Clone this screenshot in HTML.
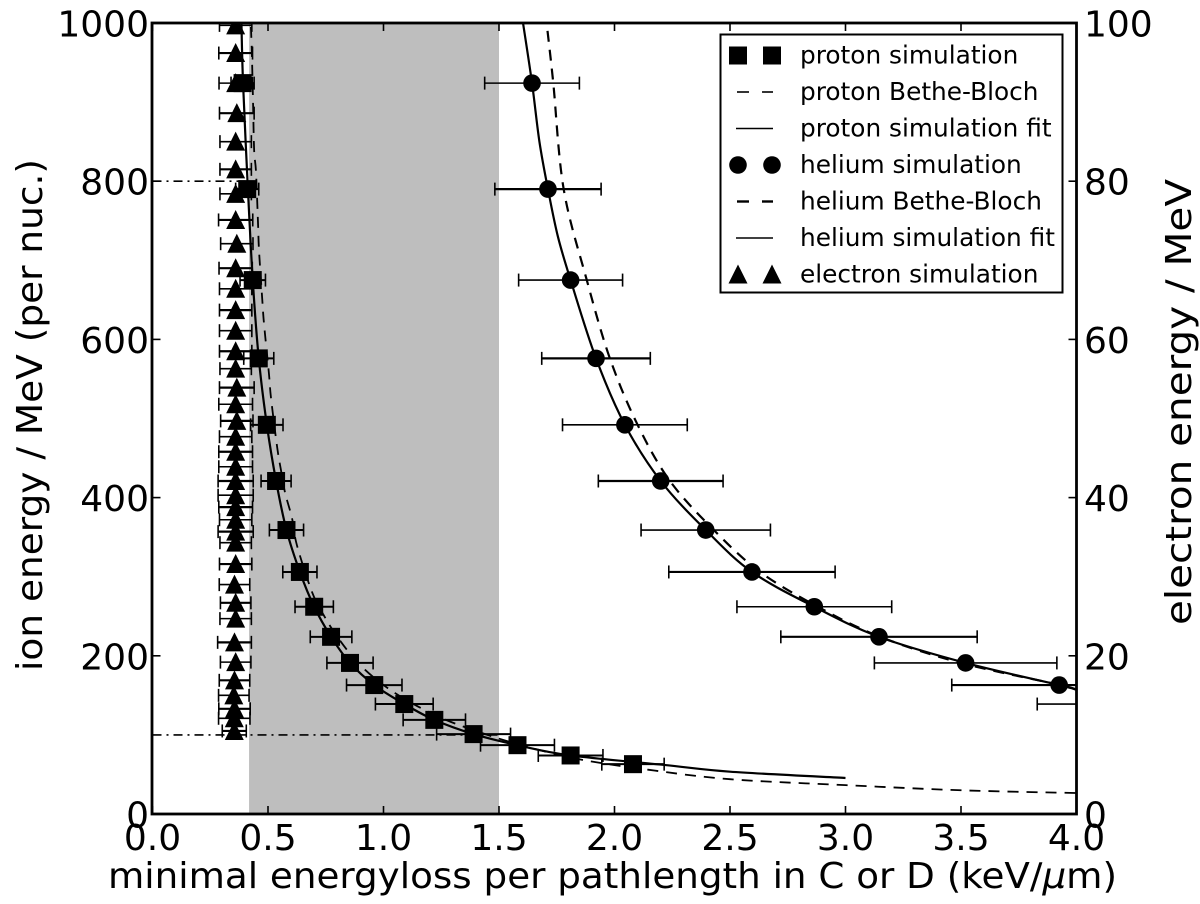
<!DOCTYPE html>
<html lang="en">
<head>
<meta charset="utf-8">
<title>Minimal energy loss per pathlength</title>
<style>
html,body{margin:0;padding:0;background:#fff;}
svg{display:block;}
text{font-family:"DejaVu Sans","Liberation Sans",sans-serif;fill:#000;}
</style>
</head>
<body>
<svg id="chart" xmlns="http://www.w3.org/2000/svg" width="1200" height="904" viewBox="0 0 1200 904">
<rect x="0" y="0" width="1200" height="904" fill="#fff"/>
<text x="612.5" y="888" font-size="36" text-anchor="middle" textLength="1009" lengthAdjust="spacingAndGlyphs">minimal energyloss per pathlength in C or D (keV/<tspan font-style="italic">μ</tspan>m)</text>
<text transform="translate(42,415) rotate(-90)" font-size="36" text-anchor="middle" textLength="512" lengthAdjust="spacingAndGlyphs">ion energy / MeV (per nuc.)</text>
<text transform="translate(1191,402) rotate(-90)" font-size="36" text-anchor="middle" textLength="446" lengthAdjust="spacingAndGlyphs">electron energy / MeV</text>
</svg>
<script>
// ---- chart data ----
const xTickLabels = ["0.0","0.5","1.0","1.5","2.0","2.5","3.0","3.5","4.0"];
const yLeftTickLabels = ["0","200","400","600","800","1000"];
const yRightTickLabels = ["0","20","40","60","80","100"];

const protonEnergy = [924,790,675,576,492,421,359,306,262,224,191,163,139,119,101,87,74,63];
const protonLoss = [0.39,0.41,0.434,0.46,0.495,0.535,0.58,0.638,0.70,0.773,0.855,0.96,1.09,1.22,1.39,1.58,1.81,2.08];
const protonError = [0.05,0.05,0.055,0.065,0.07,0.065,0.074,0.074,0.083,0.09,0.10,0.12,0.125,0.135,0.16,0.16,0.14,0.135];

const heliumEnergy = [924,790,675,576,492,421,359,306,262,224,191,163,139];
const heliumLoss = [1.643,1.712,1.81,1.92,2.045,2.2,2.395,2.595,2.865,3.145,3.52,3.925,4.45];
const heliumError = [0.205,0.23,0.225,0.235,0.27,0.27,0.28,0.36,0.335,0.425,0.395,0.465,0.62];

const electronEnergy = [99.7,96.2,92.4,88.6,85,81.5,78.4,75.1,72.1,69,66.4,63.7,61.1,58.5,56.3,53.9,51.8,49.7,47.7,45.8,43.9,42.1,40.3,38.8,37.2,35.7,34.3,31.6,29,26.7,24.7,21.7,19.2,16.9,15,13.3,12.1,10.5];
const electronLoss = [0.36,0.36,0.36,0.365,0.36,0.36,0.36,0.36,0.365,0.36,0.36,0.36,0.36,0.36,0.36,0.365,0.36,0.365,0.36,0.36,0.36,0.36,0.36,0.36,0.36,0.36,0.36,0.36,0.355,0.36,0.36,0.355,0.36,0.355,0.352,0.355,0.354,0.354];
const electronError = [0.07,0.073,0.072,0.075,0.068,0.068,0.068,0.074,0.07,0.072,0.07,0.07,0.07,0.07,0.068,0.075,0.073,0.07,0.07,0.073,0.073,0.076,0.076,0.073,0.07,0.076,0.068,0.07,0.066,0.066,0.068,0.073,0.066,0.066,0.066,0.068,0.068,0.052];

const protonFitEnergy = [1000,924,790,675,576,492,421,359,306,262,224,191,163,139,119,101,87,74,62,53.5,45.5];
const protonFitLoss = [0.385,0.392,0.413,0.434,0.46,0.495,0.535,0.58,0.638,0.70,0.773,0.855,0.96,1.09,1.22,1.39,1.58,1.81,2.215,2.5,3.0];

const protonBetheEnergy = [995,963,903,839,812,745,713,651,619,557,526,463,435,406,374,340,281,252,224,191,163,139,119,101,85,69,56,44,36.5,30,26.5];
const protonBetheLoss = [0.426,0.43,0.435,0.44,0.448,0.457,0.461,0.475,0.483,0.504,0.513,0.54,0.556,0.574,0.604,0.625,0.69,0.74,0.80,0.89,1.0,1.13,1.27,1.44,1.62,1.85,2.145,2.5,3.0,3.5,4.0];

const heliumFitEnergy = [1000,924,850,790,730,675,576,492,421,359,306,262,224,191,163,157];
const heliumFitLoss = [1.604,1.643,1.675,1.712,1.755,1.81,1.92,2.045,2.2,2.395,2.595,2.865,3.145,3.52,3.925,4.0];

const heliumBetheEnergy = [990,924,790,675,576,492,421,359,306,262,224,191,163,157];
const heliumBetheLoss = [1.71,1.735,1.78,1.88,1.98,2.1,2.24,2.43,2.63,2.88,3.15,3.5,3.93,4.0];

const guideEnergy = [800,100];
const guideLoss = [0.41,1.5];
const shadeRange = [0.418,1.5];

const legendLabels = ["proton simulation","proton Bethe-Bloch","proton simulation fit","helium simulation","helium Bethe-Bloch","helium simulation fit","electron simulation"];
const legendKinds = ["square","dashThin","line","circle","dashThick","line","triangle"];

// ---- scales ----
const X0 = 152.5, X1 = 1076.5, Y0 = 814, Y1 = 23;
const xScale = v => X0 + (v / 4) * (X1 - X0);
const yScale = v => Y0 - (v / 1000) * (Y0 - Y1);
const yRight = v => Y0 - (v / 100) * (Y0 - Y1);

const NS = "http://www.w3.org/2000/svg";
const svg = document.getElementById("chart");
function make(tag, parent, props) {
  const el = document.createElementNS(NS, tag);
  for (const k in props) el.setAttribute(k, props[k]);
  parent.appendChild(el);
  return el;
}

// clip
const defs = make("defs", svg, {});
const clip = make("clipPath", defs, {id:"plot-clip"});
make("rect", clip, {x:X0, y:Y1, width:X1-X0, height:Y0-Y1});

// shaded band
const shade = make("rect", svg, {x:xScale(shadeRange[0]), y:Y1, width:xScale(shadeRange[1])-xScale(shadeRange[0]), height:Y0-Y1, fill:"#bebebe"});



const plot = make("g", svg, {"clip-path":"url(#plot-clip)"});



// guide lines
guideEnergy.forEach((e, i) => {
  const g = make("line", plot, {x1:X0, x2:xScale(guideLoss[i]), y1:yScale(e), y2:yScale(e), stroke:"#000", "stroke-width":1.6, "stroke-dasharray":"9 5 2 5"});
  
  
});

// smooth curve via axis functions
function curvePath(xs, ys) {
  const p = xs.map((x, i) => [xScale(x), yScale(ys[i])]);
  let d = "M" + p[0][0].toFixed(2) + " " + p[0][1].toFixed(2);
  for (let i = 0; i < p.length - 1; i++) {
    const a = p[Math.max(i - 1, 0)], b = p[i], c = p[i + 1], e = p[Math.min(i + 2, p.length - 1)];
    const c1x = b[0] + (c[0] - a[0]) / 6, c1y = b[1] + (c[1] - a[1]) / 6;
    const c2x = c[0] - (e[0] - b[0]) / 6, c2y = c[1] - (e[1] - b[1]) / 6;
    d += "C" + [c1x, c1y, c2x, c2y, c[0], c[1]].map(n => n.toFixed(2)).join(" ");
  }
  return d;
}

const protonBetheLine = make("path", plot, {d:curvePath(protonBetheLoss, protonBetheEnergy), fill:"none", stroke:"#000", "stroke-width":1.8, "stroke-dasharray":"11 8"});



const protonFitLine = make("path", plot, {d:curvePath(protonFitLoss, protonFitEnergy), fill:"none", stroke:"#000", "stroke-width":2.2});



const heliumBetheLine = make("path", plot, {d:curvePath(heliumBetheLoss, heliumBetheEnergy), fill:"none", stroke:"#000", "stroke-width":2.2, "stroke-dasharray":"11 8"});



const heliumFitLine = make("path", plot, {d:curvePath(heliumFitLoss, heliumFitEnergy), fill:"none", stroke:"#000", "stroke-width":2.2});



// error bars
function errorBar(parent, x, y, err, w) {
  const g = make("g", parent, {stroke:"#000", "stroke-width":w});
  const l = xScale(x - err), r = xScale(x + err);
  make("line", g, {x1:l, x2:r, y1:y, y2:y});
  make("line", g, {x1:l, x2:l, y1:y-6.5, y2:y+6.5, "stroke-width":1.6});
  make("line", g, {x1:r, x2:r, y1:y-6.5, y2:y+6.5, "stroke-width":1.6});
  return g;
}
// markers
function drawMarker(parent, kind, cx, cy) {
  if (kind === "square") return make("rect", parent, {x:cx-9, y:cy-9, width:18, height:18, fill:"#000"});
  if (kind === "circle") return make("circle", parent, {cx:cx, cy:cy, r:8.8, fill:"#000"});
  return make("polygon", parent, {points:(cx)+","+(cy-10)+" "+(cx+9.5)+","+(cy+9)+" "+(cx-9.5)+","+(cy+9), fill:"#000"});
}

heliumLoss.forEach((x, i) => {
  const y = yScale(heliumEnergy[i]);
  const bar = errorBar(plot, x, y, heliumError[i], i % 2 ? 2.2 : 1.6);
  
  
  const m = drawMarker(plot, "circle", xScale(x), y);
  
  
});
protonLoss.forEach((x, i) => {
  const y = yScale(protonEnergy[i]);
  const bar = errorBar(plot, x, y, protonError[i], 2);
  
  
});
electronLoss.forEach((x, i) => {
  const y = yRight(electronEnergy[i]);
  const bar = errorBar(plot, x, y, electronError[i], i % 2 ? 2.2 : 1.6);
  
  
});
protonLoss.forEach((x, i) => {
  const m = drawMarker(plot, "square", xScale(x), yScale(protonEnergy[i]));
  
  
});
electronLoss.forEach((x, i) => {
  const m = drawMarker(plot, "triangle", xScale(x), yRight(electronEnergy[i]));
  
  
});

// frame
const frame = make("rect", svg, {x:X0-0.5, y:Y1, width:X1-X0+0.5, height:Y0-Y1, fill:"none", stroke:"#000", "stroke-width":2.8});



// ticks and tick labels
xTickLabels.forEach(label => {
  const v = parseFloat(label);
  const px = xScale(v);
  const t1 = make("line", svg, {x1:px, x2:px, y1:Y0, y2:Y0-8, stroke:"#000", "stroke-width":1.6});
  
  
  const t2 = make("line", svg, {x1:px, x2:px, y1:Y1, y2:Y1+8, stroke:"#000", "stroke-width":1.6});
  
  
  const tx = make("text", svg, {x:px, y:850, "font-size":36, "text-anchor":"middle"});
  tx.textContent = label;
  
  
});
yLeftTickLabels.forEach(label => {
  const py = yScale(parseFloat(label));
  const t = make("line", svg, {x1:X0, x2:X0+8, y1:py, y2:py, stroke:"#000", "stroke-width":1.6});
  
  
  const tx = make("text", svg, {x:149, y:py+13.5, "font-size":36, "text-anchor":"end"});
  tx.textContent = label;
  
  
});
yRightTickLabels.forEach(label => {
  const py = yRight(parseFloat(label));
  const t = make("line", svg, {x1:X1, x2:X1-8, y1:py, y2:py, stroke:"#000", "stroke-width":1.6});
  
  
  const tx = make("text", svg, {x:1084, y:py+13.5, "font-size":36, "text-anchor":"start"});
  tx.textContent = label;
  
  
});

// legend
const legend = make("g", svg, {});


make("rect", legend, {x:720.5, y:34.5, width:342, height:258, fill:"#fff", stroke:"#000", "stroke-width":2});
legendLabels.forEach((label, i) => {
  const ry = 55.5 + i * 36.5;
  const row = make("g", legend, {});
  
  
  const kind = legendKinds[i];
  if (kind === "square" || kind === "circle" || kind === "triangle") {
    drawMarker(row, kind, 738, ry);
    drawMarker(row, kind, 772, ry);
  } else if (kind === "line") {
    make("line", row, {x1:736, x2:773, y1:ry, y2:ry, stroke:"#000", "stroke-width":1.6});
  } else {
    const w = kind === "dashThick" ? 2.4 : 1.6;
    make("line", row, {x1:737, x2:749, y1:ry, y2:ry, stroke:"#000", "stroke-width":w});
    make("line", row, {x1:762, x2:773, y1:ry, y2:ry, stroke:"#000", "stroke-width":w});
  }
  const t = make("text", row, {x:800, y:ry+8, "font-size":24.8});
  t.textContent = label;
});
</script>
</body>
</html>
